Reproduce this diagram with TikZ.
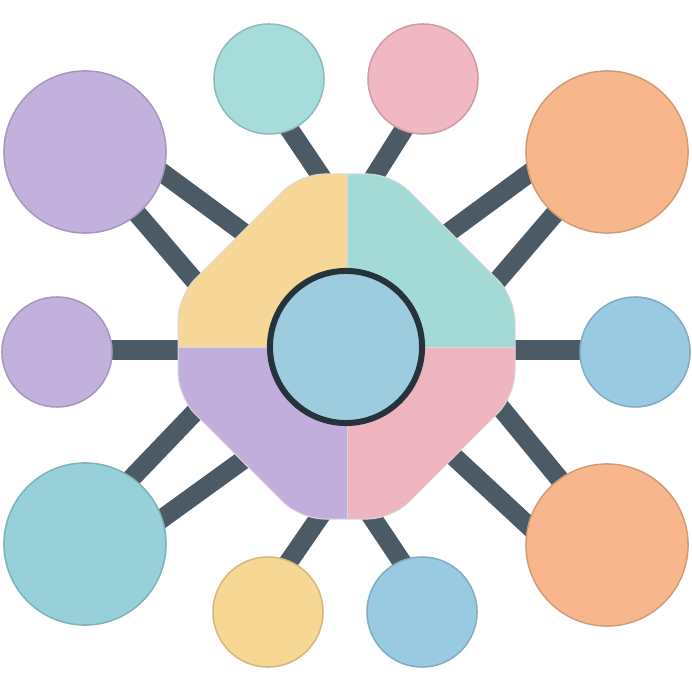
\documentclass[tikz,border=0pt]{standalone}
\usetikzlibrary{calc}
\definecolor{cPurple}{HTML}{C3B1DD}
\definecolor{cTeal}{HTML}{A6DCDA}
\definecolor{cTealB}{HTML}{97D0D8}
\definecolor{cPink}{HTML}{F0B8C3}
\definecolor{cOrange}{HTML}{F7B68C}
\definecolor{cBlue}{HTML}{9ACAE1}
\definecolor{cYellow}{HTML}{F7D794}
\definecolor{qYellow}{HTML}{F6D797}
\definecolor{qTeal}{HTML}{A4DAD6}
\definecolor{qPurple}{HTML}{C1AEDC}
\definecolor{qPink}{HTML}{EEB4BF}
\definecolor{cCenter}{HTML}{9ECCDF}
\definecolor{cRing}{HTML}{26333C}
\definecolor{cLink}{HTML}{4C5A65}
\begin{document}
\begin{tikzpicture}[x=0.01cm,y=-0.01cm,
  bub/.style={circle,fill=#1,draw=#1!85!black,line width=0.015cm,inner sep=0pt},
  bigbub/.style={bub=#1,minimum size=1.62cm},
  smallbub/.style={bub=#1,minimum size=1.10cm},
  link/.style={draw=cLink,line width=0.19cm,line cap=round}]
\useasboundingbox (0,0) rectangle (692,692);
% connector end points
\coordinate (a1) at (130,149); \coordinate (a1e) at (270,252);
\coordinate (a2) at (110,182); \coordinate (a2e) at (230,322);
\coordinate (b1) at (562,149); \coordinate (b1e) at (422,252);
\coordinate (b2) at (582,182); \coordinate (b2e) at (462,322);
\coordinate (c1) at (105,506); \coordinate (c1e) at (240,365);
\coordinate (c2) at (120,549); \coordinate (c2e) at (290,426);
\coordinate (d1) at (580,504); \coordinate (d1e) at (440,334);
\coordinate (d2) at (560,555); \coordinate (d2e) at (380,388);
\coordinate (t1) at (269,99);  \coordinate (t1e) at (345,212);
\coordinate (t2) at (423,99);  \coordinate (t2e) at (350,215);
\coordinate (u1) at (268,592); \coordinate (u1e) at (345,480);
\coordinate (u2) at (422,592); \coordinate (u2e) at (347,480);
\coordinate (l1) at (57,350);  \coordinate (l1e) at (250,350);
\coordinate (r1) at (635,350); \coordinate (r1e) at (440,350);
% connectors
\foreach \p in {a1,a2,b1,b2,c1,c2,d1,d2,t1,t2,u1,u2,l1,r1}
  \draw[link] (\p) -- (\p e);
% outer circles
\node[bigbub=cPurple] (tl) at (85,152) {};
\node[bigbub=cOrange] (tr) at (607,152) {};
\node[bigbub=cTealB] (bl) at (85,544) {};
\node[bigbub=cOrange] (br) at (607,545) {};
\node[smallbub=cTeal] (tt1) at (269,79) {};
\node[smallbub=cPink] (tt2) at (423,79) {};
\node[smallbub=cPurple] (ml) at (57,352) {};
\node[smallbub=cBlue] (mr) at (635,352) {};
\node[smallbub=cYellow] (bb1) at (268,612) {};
\node[smallbub=cBlue] (bb2) at (422,612) {};
% central octagon
\def\octpath{(300,174) -- (392,174) -- (515,297) -- (515,396) -- (392,519) -- (300,519) -- (178,397) -- (178,296) -- cycle}
\begin{scope}
  \clip[rounded corners=0.24cm] \octpath;
  \fill[qYellow] (170,170) rectangle (347,347);
  \fill[qTeal] (347,170) rectangle (520,347);
  \fill[qPurple] (170,347) rectangle (347,525);
  \fill[qPink] (347,347) rectangle (520,525);
  \draw[white!70!gray,line width=0.008cm] (347,170) -- (347,525) (170,347) -- (520,347);
\end{scope}
\draw[rounded corners=0.24cm,draw=black!15,line width=0.01cm] \octpath;
\node[circle,fill=cCenter,draw=cRing,line width=0.06cm,minimum size=1.52cm,inner sep=0pt] (hub) at (346,347) {};
\end{tikzpicture}
\end{document}
